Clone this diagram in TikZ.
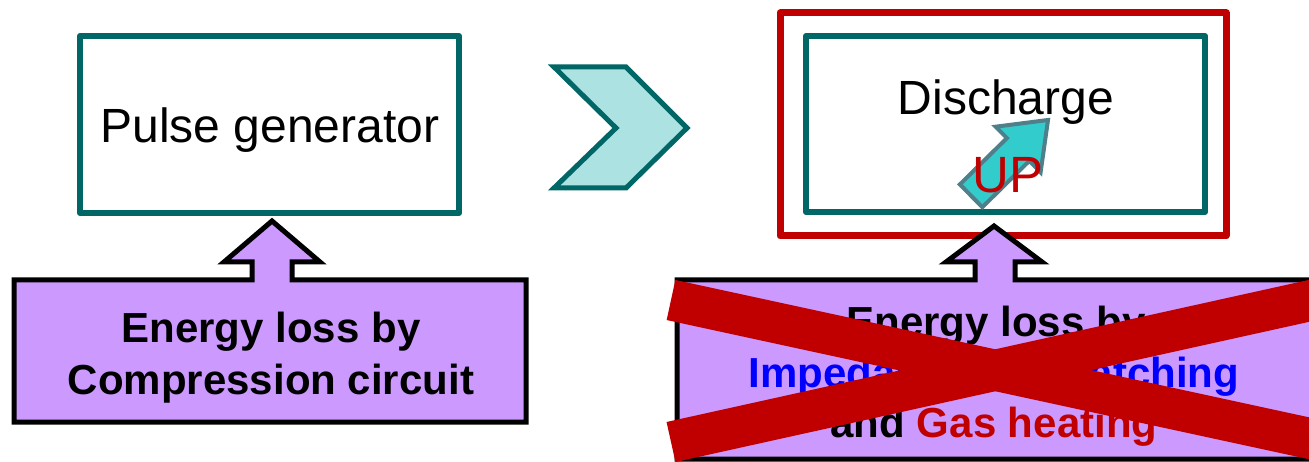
\documentclass[tikz,border=0pt]{standalone}
\usepackage{fontspec}
\setmainfont{Liberation Sans}
\definecolor{teal1}{RGB}{0,102,102}
\definecolor{chevfill}{RGB}{173,226,226}
\definecolor{redbox}{RGB}{192,0,0}
\definecolor{callfill}{RGB}{204,153,255}
\definecolor{upfill}{RGB}{51,204,204}
\definecolor{upline}{RGB}{77,128,138}
\definecolor{blue1}{RGB}{0,0,255}
\begin{document}
\begin{tikzpicture}[x=1pt,y=-1pt,
  tealbox/.style={draw=teal1,line width=6pt,line join=round},
  bigtext/.style={font=\fontsize{48}{58}\selectfont,anchor=base,inner sep=0pt},
  calltext/.style={font=\fontsize{42}{50}\selectfont\bfseries,anchor=base,inner sep=0pt},
  callout/.style={draw=black,fill=callfill,line width=5pt,line join=miter},
  crossbar/.style={draw=redbox,line width=41pt,line cap=butt}]
\useasboundingbox (0,0) rectangle (1309,462);
% left box
\draw[tealbox] (80,36) rectangle (459,213);
\node[bigtext] (pulse) at (270,143) {Pulse generator};
% chevron
\draw[draw=teal1,fill=chevfill,line width=5pt,line join=miter]
  (554,67) -- (626,67) -- (687,128) -- (626,188) -- (554,188) -- (616,128) -- cycle;
% right boxes
\draw[draw=redbox,line width=7pt,line join=round] (780,13) rectangle (1226,236);
\draw[tealbox] (806,36) rectangle (1205,212);
\node[bigtext] (dis) at (1006,115) {Discharge};
% UP arrow
\draw[draw=upline,fill=upfill,line width=4pt,line join=miter]
  (959.9,184.4) -- (1006.9,138.1) -- (995.6,126.7) -- (1048,120) -- (1040.6,172.3)
  -- (1029.3,160.9) -- (982.3,207.2) -- cycle;
\node[font=\fontsize{51}{60}\selectfont,text=redbox,anchor=base,inner sep=0pt] (up) at (1008,193) {UP};
% left callout
\draw[callout] (14,422) -- (14,280) -- (252,280) -- (252,262) -- (224,262) -- (272,221)
  -- (320,262) -- (292,262) -- (292,280) -- (526,280) -- (526,422) -- cycle;
\node[calltext] (l1) at (271,342) {Energy loss by};
\node[calltext] (l2) at (271,394) {Compression circuit};
% right callout
\draw[callout] (677,459) -- (677,280) -- (975,280) -- (975,262) -- (946,262) -- (994,226)
  -- (1042,262) -- (1015,262) -- (1015,280) -- (1330,280) -- (1330,459) -- cycle;
\node[calltext] (r1) at (996,337) {Energy loss by};
\node[calltext,text=blue1] (r2) at (994,387) {Impedance mismatching};
\node[calltext] (r3) at (994,437) {and \textcolor{redbox}{Gas heating}};
% red cross
\coordinate (x1a) at (671,300);
\coordinate (x1b) at (1340,445);
\coordinate (x2a) at (671,442);
\coordinate (x2b) at (1340,294);
\draw[crossbar] (x1a) -- (x1b);
\draw[crossbar] (x2a) -- (x2b);
\end{tikzpicture}
\end{document}
